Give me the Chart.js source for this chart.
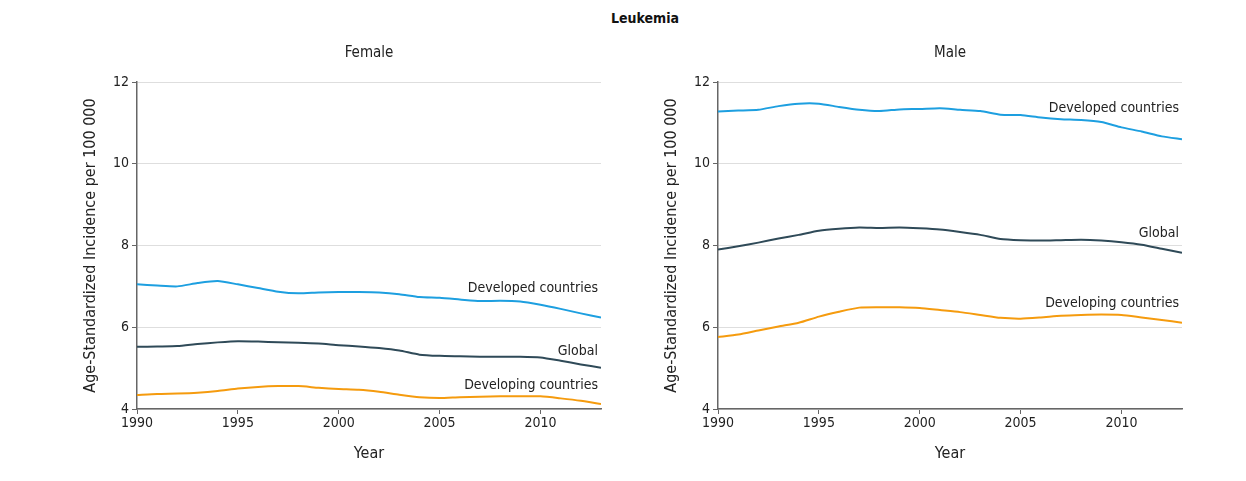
<!DOCTYPE html>
<html>
<head>
<meta charset="utf-8">
<script src="https://cdn.jsdelivr.net/npm/chart.js@4"></script>
<style>
  html, body { margin: 0; padding: 0; background: #fff; }
  body { width: 1246px; height: 481px; position: relative; overflow: hidden; font-family: "DejaVu Sans Condensed", "Liberation Sans Narrow", sans-serif; }
  .wrap { position: absolute; top: 0; width: 623px; height: 481px; }
  #title { position: absolute; top: 10px; left: 0; width: 1290px; text-align: center; font-weight: bold; font-size: 14px; color: #111; }
</style>
</head>
<body>
<div id="title">Leukemia</div>
<div class="wrap" style="left:0"><canvas id="female" width="623" height="481"></canvas></div>
<div class="wrap" style="left:581px"><canvas id="male" width="623" height="481"></canvas></div>
<script>
const years = [1990,1991,1992,1993,1994,1995,1996,1997,1998,1999,2000,2001,2002,2003,2004,2005,2006,2007,2008,2009,2010,2011,2012,2013];
const xTicks = [1990, 1995, 2000, 2005, 2010];
const yTicks = [4, 6, 8, 10, 12];

const femaleDeveloped = [7.05,7.02,7.00,7.08,7.13,7.05,6.96,6.87,6.83,6.85,6.86,6.86,6.85,6.81,6.74,6.72,6.68,6.64,6.65,6.63,6.55,6.45,6.34,6.24];
const femaleGlobal    = [5.52,5.53,5.54,5.59,5.63,5.66,5.65,5.63,5.62,5.60,5.56,5.53,5.49,5.43,5.33,5.30,5.29,5.28,5.28,5.28,5.26,5.18,5.09,5.01];
const femaleDeveloping= [4.34,4.37,4.38,4.40,4.44,4.50,4.54,4.56,4.56,4.52,4.49,4.47,4.42,4.35,4.29,4.27,4.29,4.30,4.31,4.31,4.31,4.26,4.20,4.12];

const maleDeveloped   = [11.28,11.30,11.32,11.41,11.47,11.47,11.39,11.32,11.29,11.33,11.34,11.36,11.32,11.29,11.20,11.19,11.13,11.09,11.07,11.02,10.89,10.79,10.67,10.60];
const maleGlobal      = [7.90,7.98,8.07,8.17,8.26,8.36,8.41,8.44,8.43,8.44,8.42,8.39,8.33,8.26,8.16,8.13,8.12,8.13,8.14,8.12,8.08,8.02,7.92,7.82];
const maleDeveloping  = [5.76,5.82,5.92,6.02,6.11,6.26,6.38,6.48,6.49,6.49,6.47,6.42,6.37,6.30,6.23,6.21,6.24,6.28,6.30,6.31,6.30,6.24,6.18,6.11];

const seriesNames = ["Developed countries", "Global", "Developing countries"];
const colors = ["#1d9fe0", "#2f4a58", "#f59b0e"];

const FONT = '"DejaVu Sans Condensed", "Liberation Sans Narrow", sans-serif';

const textPlugin = {
  id: 'textPlugin',
  afterDraw(chart, args, opts) {
    const ctx = chart.ctx;
    const ca = chart.chartArea;
    const ys = chart.scales.y;
    ctx.save();
    ctx.fillStyle = '#222';
    ctx.textAlign = 'center';
    ctx.textBaseline = 'middle';
    // panel title
    ctx.font = '15px ' + FONT;
    ctx.fillText(opts.panel, (ca.left + ca.right) / 2, 53);
    // x title
    ctx.font = '16px ' + FONT;
    ctx.fillText('Year', (ca.left + ca.right) / 2, 454);
    // y title
    ctx.save();
    ctx.translate(ca.left - 46, (ca.top + ca.bottom) / 2);
    ctx.rotate(-Math.PI / 2);
    ctx.fillText('Age-Standardized Incidence per 100 000', 0, 0);
    ctx.restore();
    // series labels
    ctx.font = '14px ' + FONT;
    ctx.textAlign = 'right';
    opts.labelAnchors.forEach((v, i) => {
      ctx.fillText(seriesNames[i], ca.right - 3, ys.getPixelForValue(v));
    });
    ctx.restore();
  }
};

function makeChart(id, panel, data, labelAnchors) {
  new Chart(document.getElementById(id), {
    type: 'line',
    data: {
      labels: years,
      datasets: data.map((d, i) => ({
        label: seriesNames[i],
        data: d,
        borderColor: colors[i],
        backgroundColor: colors[i],
        borderWidth: 2,
        pointRadius: 0,
        tension: 0.2,
        fill: false
      }))
    },
    options: {
      responsive: false,
      animation: false,
      layout: { padding: { top: 82, right: 22, bottom: 0, left: 0 } },
      plugins: {
        legend: { display: false },
        tooltip: { enabled: false },
        title: { display: false },
        textPlugin: { panel, labelAnchors }
      },
      scales: {
        x: {
          type: 'linear',
          min: 1990, max: 2013,
          afterBuildTicks: (s) => { s.ticks = xTicks.map(v => ({ value: v })); },
          afterFit: (s) => { s.height = 72; },
          grid: { drawOnChartArea: false, drawTicks: true, tickLength: 5, tickColor: '#666', lineWidth: 1 },
          border: { display: true, color: '#666', width: 1.5 },
          ticks: { color: '#222', font: { size: 14, family: FONT }, padding: 1, maxRotation: 0, callback: v => String(v) }
        },
        y: {
          min: 4, max: 12,
          afterBuildTicks: (s) => { s.ticks = yTicks.map(v => ({ value: v })); },
          afterFit: (s) => { s.width = 137; },
          grid: { color: '#dedede', lineWidth: 1, drawTicks: true, tickLength: 5, tickColor: '#666' },
          border: { display: true, color: '#666', width: 1.5 },
          ticks: { color: '#222', font: { size: 14, family: FONT }, padding: 3 }
        }
      }
    },
    plugins: [textPlugin]
  });
}

makeChart('female', 'Female', [femaleDeveloped, femaleGlobal, femaleDeveloping], [6.96, 5.41, 4.58]);
makeChart('male', 'Male', [maleDeveloped, maleGlobal, maleDeveloping], [11.36, 8.3, 6.58]);
</script>
</body>
</html>
